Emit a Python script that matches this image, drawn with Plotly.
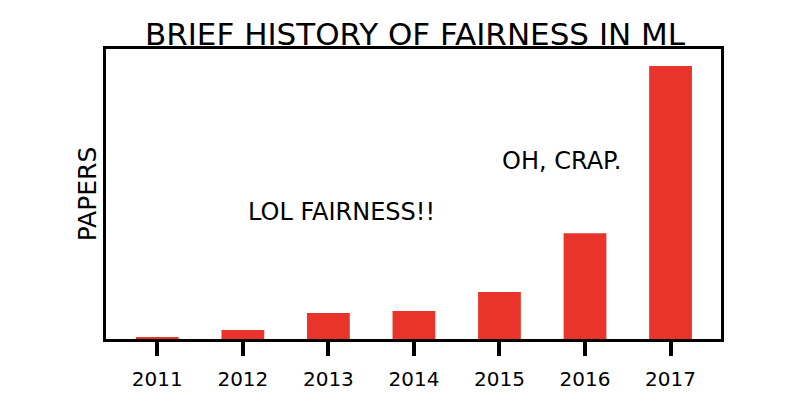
import plotly.graph_objects as go

years = ["2011", "2012", "2013", "2014", "2015", "2016", "2017"]
papers = [1, 4.2, 12.3, 13.2, 22.2, 50, 129]
annotations_text = ["LOL FAIRNESS!!", "OH, CRAP."]
annotations_x = [2.15, 4.72]
annotations_y = [60, 84]

FONT = "DejaVu Sans"
RED = "#e8342a"

fig = go.Figure(
    go.Bar(x=list(range(len(years))), y=papers, marker_color=RED,
           marker_line_width=0, width=0.5)
)

for t, x, y in zip(annotations_text, annotations_x, annotations_y):
    fig.add_annotation(x=x, y=y, text=t, showarrow=False,
                       font=dict(family=FONT, size=24, color="black"))

fig.update_layout(
    width=792, height=392,
    margin=dict(l=98, r=79, t=41, b=61, autoexpand=False),
    paper_bgcolor="white", plot_bgcolor="white",
    showlegend=False,
    title=dict(text="BRIEF HISTORY OF FAIRNESS IN ML", x=(415 - 8) / 792, xanchor="center",
               y=1 - 26 / 392, yanchor="middle", yref="container",
               font=dict(family=FONT, size=31, color="black")),
    xaxis=dict(
        tickmode="array", tickvals=list(range(len(years))), ticktext=years,
        range=[-0.6, 6.59], showgrid=False, zeroline=False, automargin=False,
        showline=True, linecolor="black", linewidth=3, mirror=True,
        ticks="outside", ticklen=14, tickwidth=4, tickcolor="black",
        ticklabelstandoff=6,
        tickfont=dict(family=FONT, size=20, color="black"),
    ),
    yaxis=dict(
        range=[0, 137], showgrid=False, zeroline=False, automargin=False,
        showline=True, linecolor="black", linewidth=3, mirror=True,
        showticklabels=False, ticks="",
        title=dict(text="PAPERS", standoff=0,
                   font=dict(family=FONT, size=25, color="black")),
    ),
)

fig.write_html("out.html")
